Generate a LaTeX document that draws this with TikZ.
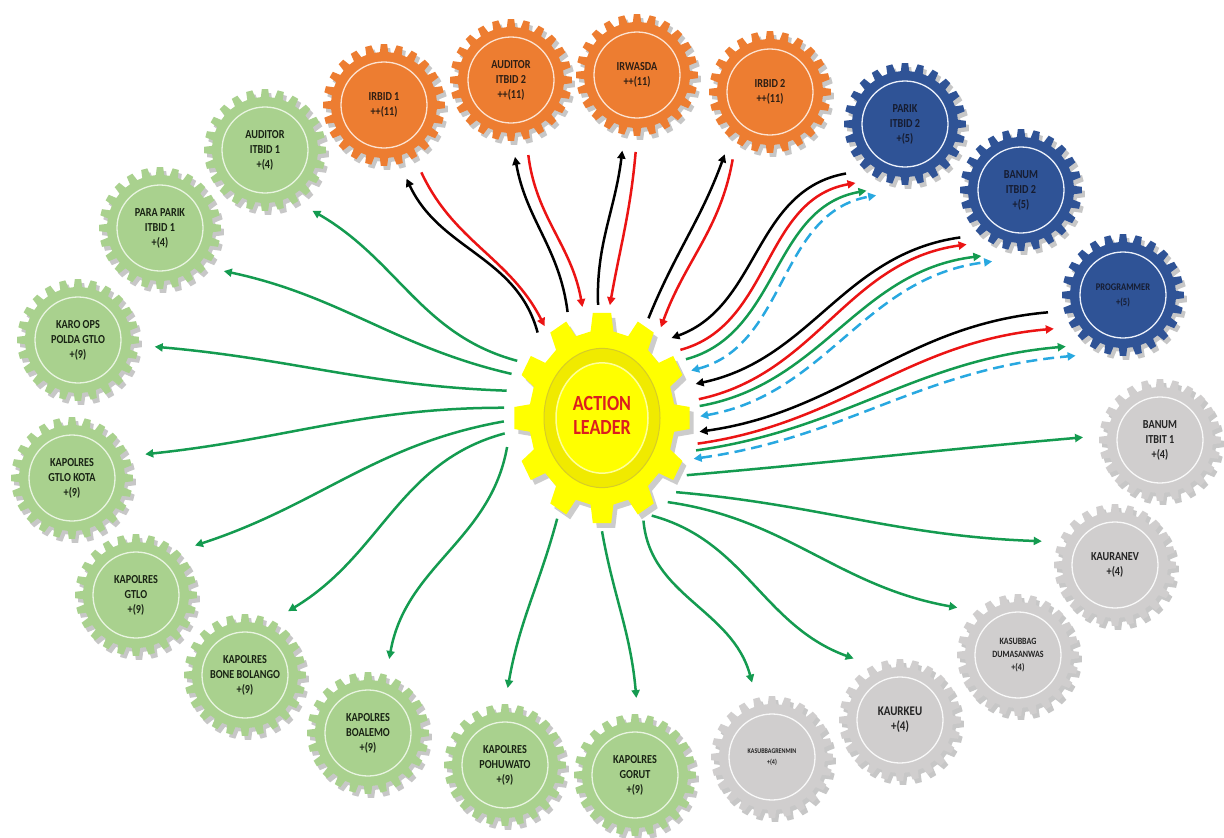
\documentclass[tikz,border=0pt]{standalone}
\usepackage{fontspec}
\setmainfont{Carlito}
\usepackage{tikz}
\usetikzlibrary{arrows.meta,shapes.geometric}
\definecolor{gearorange}{RGB}{237,125,49}
\definecolor{ringorange}{RGB}{252,226,208}
\definecolor{textorange}{RGB}{45,30,20}
\definecolor{gearblue}{RGB}{47,83,150}
\definecolor{ringblue}{RGB}{235,240,250}
\definecolor{textblue}{RGB}{22,28,48}
\definecolor{geargreen}{RGB}{169,209,142}
\definecolor{ringgreen}{RGB}{232,244,224}
\definecolor{textgreen}{RGB}{25,35,20}
\definecolor{geargray}{RGB}{208,206,206}
\definecolor{ringgray}{RGB}{248,248,248}
\definecolor{textgray}{RGB}{35,35,35}
\definecolor{gearyellow}{RGB}{255,255,0}
\definecolor{leadring}{RGB}{240,234,0}
\definecolor{ringedge}{RGB}{214,204,40}
\definecolor{leadred}{RGB}{220,30,30}
\definecolor{arrowgreen}{RGB}{20,155,80}
\definecolor{arrowred}{RGB}{235,20,20}
\definecolor{arrowblue}{RGB}{40,168,224}
\tikzset{
    gear-node/.style = {circle, minimum size=122pt, inner sep=0pt, outer sep=16pt, align=center, font=\bfseries\fontsize{10.2}{12.5}\selectfont},
    lead-node/.style = {ellipse, minimum width=196pt, minimum height=226pt, inner sep=0pt, align=center, text=leadred, font=\bfseries\fontsize{18}{20}\selectfont},
    link/.style = {line width=2.5pt, -{Triangle[length=8pt,width=8pt]}},
    green-link/.style = {link, draw=arrowgreen},
    red-link/.style = {link, draw=arrowred},
    black-link/.style = {link, draw=black},
    blue-link/.style = {link, draw=arrowblue, {Triangle[length=8pt,width=8pt]}-{Triangle[length=8pt,width=8pt]}, dash pattern=on 11pt off 6pt},
}
\newcommand{\tallbox}[1]{\scalebox{1}[1.2]{\begin{tabular}{@{}c@{}}#1\end{tabular}}}
\newcommand{\gearteeth}[3]{({-0.3*360/#1}:#2) \foreach \i in {1,...,#1}{ -- ({(\i-1.3)*360/#1}:#2) -- ({(\i-1.2)*360/#1}:#3) -- ({(\i-0.8)*360/#1}:#3) -- ({(\i-0.7)*360/#1}:#2)} -- cycle}
\newcommand{\gearshape}[4]{%
  \begin{scope}[shift={(#1,#2)}]
    \fill[black, opacity=.22, shift={(3,-4)}] \gearteeth{24}{53}{61};
    \fill[#3] \gearteeth{24}{53}{61};
    \draw[#4, line width=1.3pt] (0,0) circle[radius=43pt];
  \end{scope}}
\newcommand{\gear}[6][]{%
  \gearshape{#3}{#4}{gear#5}{ring#5}
  \node[gear-node, text=text#5, #1] (#2) at (#3,#4) {\tallbox{#6}};}

\begin{document}
\begin{tikzpicture}[x=1pt, y=1pt]
\useasboundingbox (0,0) rectangle (1224,-838);

\gear{irbA}{384}{-105}{orange}{IRBID 1\\++(11)}
\gear{audB}{511}{-80}{orange}{AUDITOR\\ITBID 2\\++(11)}
\gear{irw}{637}{-75}{orange}{IRWASDA\\++(11)}
\gear{irbB}{770}{-92}{orange}{IRBID 2\\++(11)}
\gear{parB}{905}{-124}{blue}{PARIK\\ITBID 2\\+(5)}
\gear{banB}{1021}{-190}{blue}{BANUM\\ITBID 2\\+(5)}
\gear[font=\bfseries\fontsize{8.5}{12}\selectfont]{prog}{1123}{-295}{blue}{PROGRAMMER\\+(5)}
\gear{banA}{1160}{-440}{gray}{BANUM\\ITBIT 1\\+(4)}
\gear{kaur}{1115}{-565}{gray}{KAURANEV\\+(4)}
\gear[font=\bfseries\fontsize{8}{11}\selectfont]{kasD}{1018}{-655}{gray}{KASUBBAG\\DUMASANWAS\\+(4)}
\gear[font=\bfseries\fontsize{11}{13}\selectfont]{keu}{900}{-720}{gray}{KAURKEU\\+(4)}
\gear[font=\bfseries\fontsize{6}{9}\selectfont]{kasR}{772}{-757}{gray}{KASUBBAGRENMIN\\+(4)}
\gear{audA}{265}{-150}{green}{AUDITOR\\ITBID 1\\+(4)}
\gear{para}{160}{-228}{green}{PARA PARIK\\ITBID 1\\+(4)}
\gear{karo}{78}{-340}{green}{KARO OPS\\POLDA GTLO\\+(9)}
\gear{kota}{72}{-478}{green}{KAPOLRES\\GTLO KOTA\\+(9)}
\gear{gtlo}{136}{-595}{green}{KAPOLRES\\GTLO\\+(9)}
\gear{bone}{245}{-675}{green}{KAPOLRES\\BONE BOLANGO\\+(9)}
\gear{boal}{368}{-733}{green}{KAPOLRES\\BOALEMO\\+(9)}
\gear{pohu}{505}{-765}{green}{KAPOLRES\\POHUWATO\\+(9)}
\gear{goru}{635}{-775}{green}{KAPOLRES\\GORUT\\+(9)}

\begin{scope}[shift={(602,-418)}, yscale=1.2]
  \fill[black, opacity=.2, shift={(4,-4)}] \gearteeth{12}{73}{88};
  \fill[gearyellow] \gearteeth{12}{73}{88};
  \draw[ringedge, line width=1pt, fill=leadring] (0,0) circle[radius=58pt];
  \draw[white!60!gearyellow, line width=1.5pt, fill=gearyellow] (0,0) circle[radius=46pt];
\end{scope}
\node[lead-node] (lead) at (602,-418) {\tallbox{ACTION\\LEADER}};

\draw[green-link] (lead.146) to[out=165,in=-30] (audA.-52);
\draw[green-link] (lead.154) to[out=167,in=-12] (para.-34);
\draw[green-link] (lead.164) to[out=178,in=-5] (karo.-5);
\draw[green-link] (lead.174) to[out=180,in=6] (kota.18);
\draw[green-link] (lead.182) to[out=190,in=18] (gtlo.40);
\draw[green-link] (lead.189) to[out=195,in=31] (bone.56);
\draw[green-link] (lead.197) to[out=260,in=80] (boal.74);
\draw[green-link] (lead.246) to[out=255,in=80] (pohu.88);
\draw[green-link] (lead.270) to[out=-80,in=95] (goru.89);
\draw[green-link] (lead.292) to[out=-85,in=105] (kasR.105);
\draw[green-link] (lead.297) to[out=-15,in=160] (keu.127);
\draw[green-link] (lead.308) to[out=-8,in=170] (kasD.142);
\draw[green-link] (lead.315) to[out=-5,in=178] (kaur.162);
\draw[green-link] (lead.326) to[out=5,in=185] (banA.178);

\draw[black-link] (lead.127) to[out=105,in=-65] (irbA.-73);
\draw[red-link] (irbA.-61) to[out=-65,in=117] (lead.122);
\draw[black-link] (lead.108) to[out=97,in=-80] (audB.-87);
\draw[red-link] (audB.-77) to[out=-83,in=100] (lead.100);
\draw[black-link] (lead.92) to[out=92,in=-97] (irw.-101);
\draw[red-link] (irw.-91) to[out=-95,in=80] (lead.86);
\draw[black-link] (lead.65) to[out=68,in=-110] (irbB.-126);
\draw[red-link] (irbB.-119) to[out=-100,in=70] (lead.57);

\draw[black-link] (parB.-140) to[out=190,in=20] (lead.49);
\draw[red-link] (lead.41) to[out=15,in=190] (parB.-130);
\draw[green-link] (lead.35) to[out=15,in=190] (parB.-120);
\draw[blue-link] (lead.28) to[out=15,in=190] (parB.-112);
\draw[black-link] (banB.-142) to[out=188,in=12] (lead.20);
\draw[red-link] (lead.11) to[out=12,in=188] (banB.-135);
\draw[green-link] (lead.7) to[out=10,in=187] (banB.-121);
\draw[blue-link] (lead.1) to[out=10,in=187] (banB.-112);
\draw[black-link] (prog.-167) to[out=185,in=8] (lead.-8);
\draw[red-link] (lead.-15) to[out=8,in=185] (prog.-154);
\draw[green-link] (lead.-19) to[out=8,in=185] (prog.-138);
\draw[blue-link] (lead.-24) to[out=8,in=185] (prog.-128);
\end{tikzpicture}
\end{document}
